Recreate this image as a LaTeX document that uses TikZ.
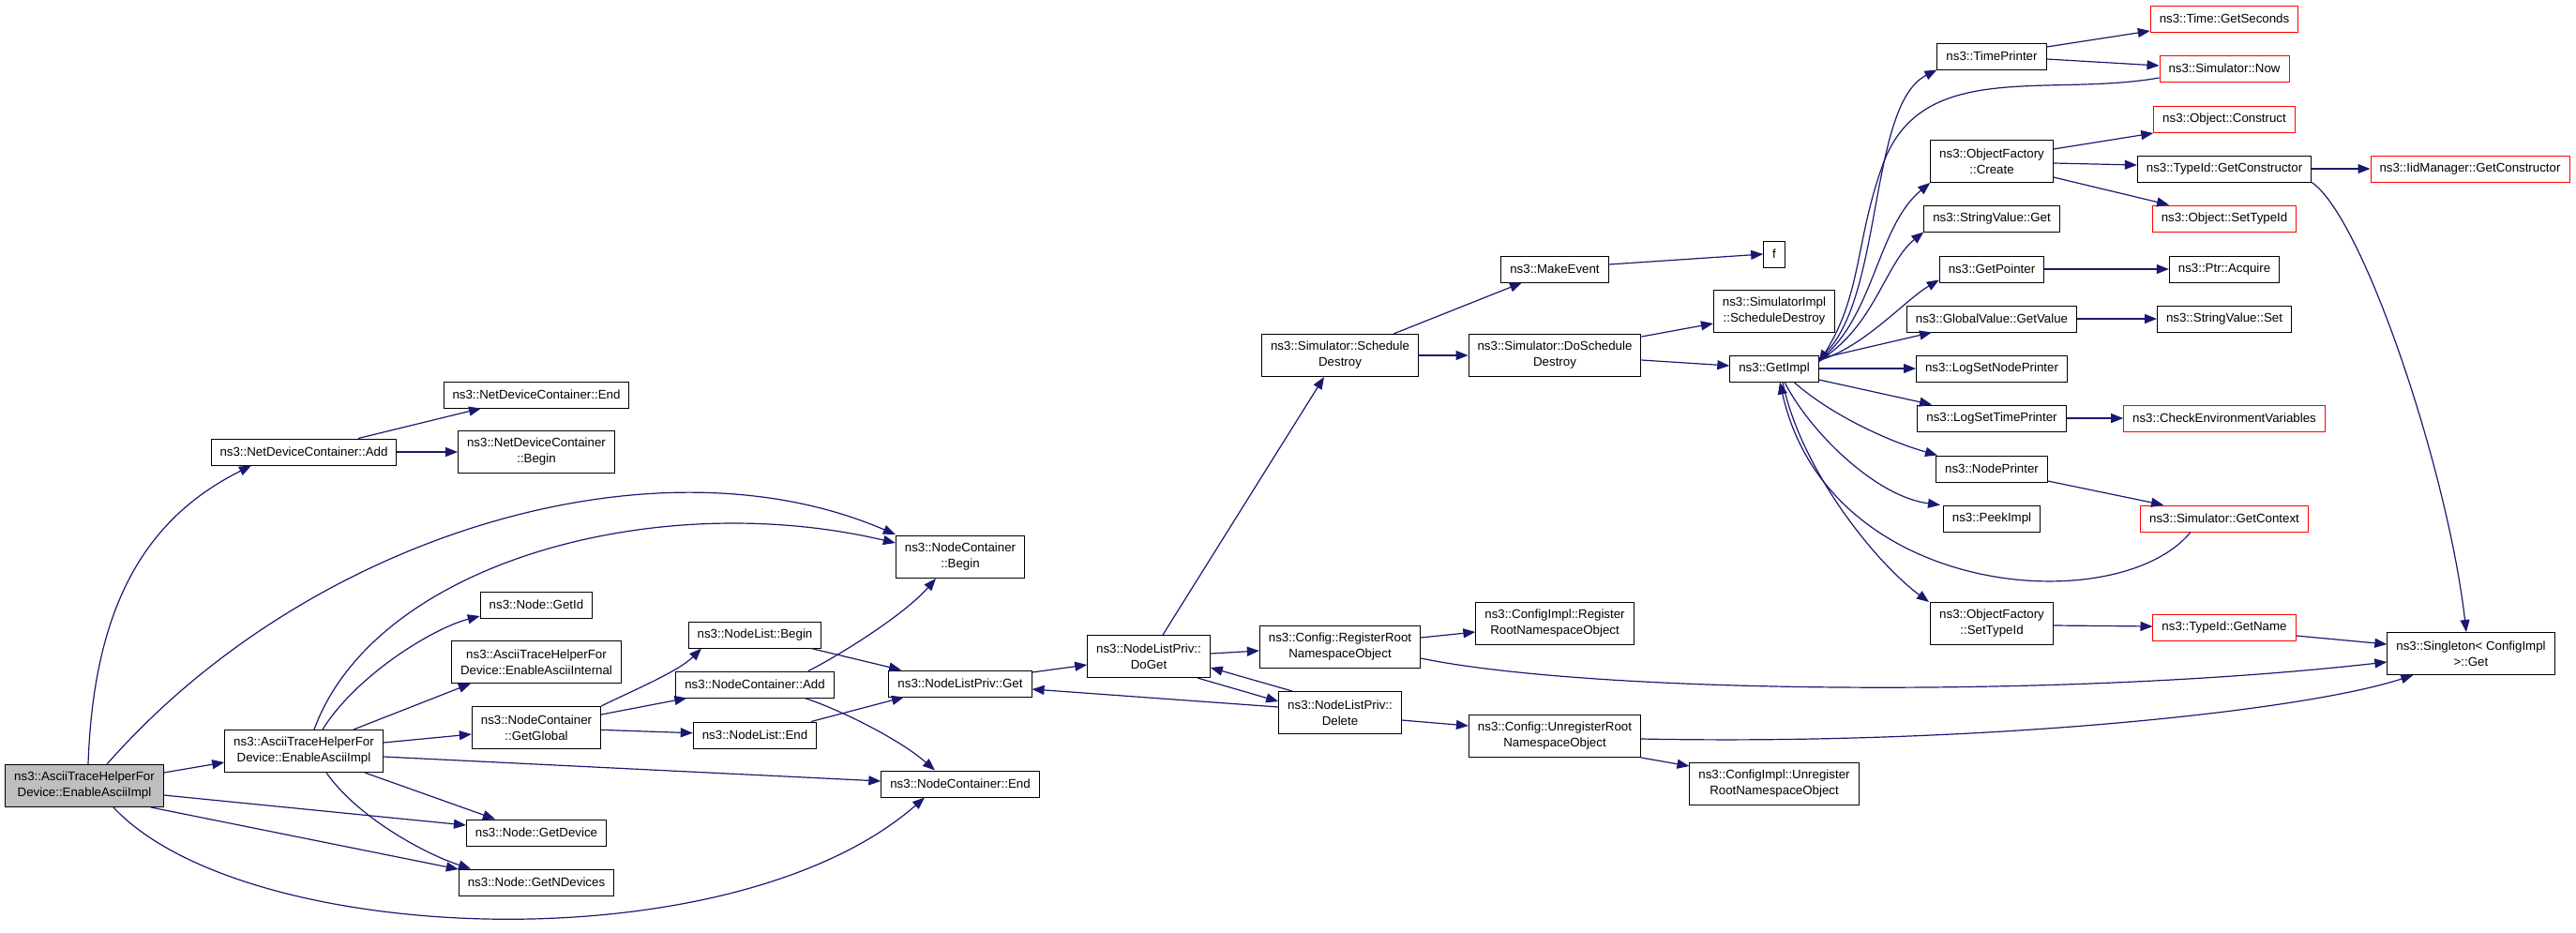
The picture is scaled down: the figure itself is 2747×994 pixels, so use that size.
\documentclass[tikz,border=0pt]{standalone}
\usepackage{fontspec}
\setmainfont{Liberation Sans}
\usetikzlibrary{arrows.meta}
\definecolor{edgeblue}{RGB}{25,25,112}
\definecolor{undoc}{RGB}{255,0,0}
\definecolor{rootgray}{RGB}{191,191,191}

\begin{document}
\begin{tikzpicture}[x=1pt,y=-1pt,
    >={Triangle[length=13pt,width=10pt]},
    box/.style={draw=black,line width=1pt,fill=white,minimum height=28pt,
      inner xsep=9.5pt,inner ysep=2pt,align=center,font=\fontsize{13.3}{17}\selectfont},
    dbl/.style={box,minimum height=45pt},
    nodoc/.style={draw=undoc},
    call/.style={->,edgeblue,line width=1.2pt}]
      \useasboundingbox (0,0) rectangle (2747,994);

      \node[dbl,fill=rootgray] (main) at (90,838) {ns3::AsciiTraceHelperFor\\Device::EnableAsciiImpl};
      \node[box] (netAdd) at (324,482) {ns3::NetDeviceContainer::Add};
      \node[dbl] (impl) at (324,801) {ns3::AsciiTraceHelperFor\\Device::EnableAsciiImpl};
      \node[box] (netEnd) at (572,421) {ns3::NetDeviceContainer::End};
      \node[dbl] (netBegin) at (572,482) {ns3::NetDeviceContainer\\::Begin};
      \node[box] (getId) at (572,645) {ns3::Node::GetId};
      \node[dbl] (internal) at (572,706) {ns3::AsciiTraceHelperFor\\Device::EnableAsciiInternal};
      \node[dbl] (getGlobal) at (572,776) {ns3::NodeContainer\\::GetGlobal};
      \node[box] (getDevice) at (572,888) {ns3::Node::GetDevice};
      \node[box] (getNDevices) at (572,941) {ns3::Node::GetNDevices};
      \node[box] (listBegin) at (805,677) {ns3::NodeList::Begin};
      \node[box] (ncAdd) at (805,730) {ns3::NodeContainer::Add};
      \node[box] (listEnd) at (805,784) {ns3::NodeList::End};
      \node[dbl] (ncBegin) at (1024,594) {ns3::NodeContainer\\::Begin};
      \node[box] (privGet) at (1024,729) {ns3::NodeListPriv::Get};
      \node[box] (ncEnd) at (1024,836) {ns3::NodeContainer::End};
      \node[dbl] (doGet) at (1225,700) {ns3::NodeListPriv::\\DoGet};
      \node[dbl] (schedDestroy) at (1429,379) {ns3::Simulator::Schedule\\Destroy};
      \node[dbl] (regRoot) at (1429,690) {ns3::Config::RegisterRoot\\NamespaceObject};
      \node[dbl] (privDelete) at (1429,760) {ns3::NodeListPriv::\\Delete};
      \node[box] (makeEvent) at (1658,287) {ns3::MakeEvent};
      \node[dbl] (doSched) at (1658,379) {ns3::Simulator::DoSchedule\\Destroy};
      \node[dbl] (implReg) at (1658,665) {ns3::ConfigImpl::Register\\RootNamespaceObject};
      \node[dbl] (unregRoot) at (1658,785) {ns3::Config::UnregisterRoot\\NamespaceObject};
      \node[box] (fn) at (1892,271) {f};
      \node[dbl] (implSched) at (1892,332) {ns3::SimulatorImpl\\::ScheduleDestroy};
      \node[box] (getImpl) at (1892,393) {ns3::GetImpl};
      \node[dbl] (implUnreg) at (1892,836) {ns3::ConfigImpl::Unregister\\RootNamespaceObject};
      \node[box] (timePrinter) at (2124,60) {ns3::TimePrinter};
      \node[dbl] (ofCreate) at (2124,172) {ns3::ObjectFactory\\::Create};
      \node[box] (svGet) at (2124,233) {ns3::StringValue::Get};
      \node[box] (getPointer) at (2124,287) {ns3::GetPointer};
      \node[box] (gvGetValue) at (2124,340) {ns3::GlobalValue::GetValue};
      \node[box] (logNode) at (2124,393) {ns3::LogSetNodePrinter};
      \node[box] (logTime) at (2124,446) {ns3::LogSetTimePrinter};
      \node[box] (nodePrinter) at (2124,500) {ns3::NodePrinter};
      \node[box] (peekImpl) at (2124,553) {ns3::PeekImpl};
      \node[dbl] (ofSetTypeId) at (2124,665) {ns3::ObjectFactory\\::SetTypeId};
      \node[box,nodoc] (getSeconds) at (2372,20) {ns3::Time::GetSeconds};
      \node[box,nodoc] (simNow) at (2372,73) {ns3::Simulator::Now};
      \node[box,nodoc] (construct) at (2372,127) {ns3::Object::Construct};
      \node[box] (getConstructor) at (2372,180) {ns3::TypeId::GetConstructor};
      \node[box,nodoc] (setTypeId) at (2372,233) {ns3::Object::SetTypeId};
      \node[box] (acquire) at (2372,287) {ns3::Ptr::Acquire};
      \node[box] (svSet) at (2372,340) {ns3::StringValue::Set};
      \node[box,nodoc] (checkEnv) at (2372,446) {ns3::CheckEnvironmentVariables};
      \node[box,nodoc] (getContext) at (2372,553) {ns3::Simulator::GetContext};
      \node[box,nodoc] (getName) at (2372,669) {ns3::TypeId::GetName};
      \node[box,nodoc] (iidConstructor) at (2634,180) {ns3::IidManager::GetConstructor};
      \node[dbl] (singleton) at (2635,697) {ns3::Singleton< ConfigImpl\\>::Get};

      \draw[call] ([xshift=4]main.north) .. controls +(6,-176) and +(-108,54) .. ([xshift=-56]netAdd.south);
      \draw[call] ([xshift=24]main.north) .. controls +(216,-246) and +(-255,-110) .. ([yshift=24]ncBegin.west);
      \draw[call] ([yshift=14]main.east) -- ([yshift=-12]impl.west);
      \draw[call] ([yshift=-10]main.east) -- ([yshift=8]getDevice.west);
      \draw[call] ([xshift=71]main.south) -- ([yshift=14]getNDevices.west);
      \draw[call] ([xshift=31]main.south) .. controls +(139,149) and +(-206,180) .. ([xshift=-38]ncEnd.south);

      \draw[call] ([xshift=11]impl.north) .. controls +(65,-178) and +(-255,-60) .. ([yshift=15]ncBegin.west);
      \draw[call] ([xshift=20]impl.north) .. controls +(36,-58) and +(-50,13) .. ([yshift=-12]getId.west);
      \draw[call] ([xshift=53]impl.north) -- ([xshift=-70]internal.south);
      \draw[call] ([yshift=9]impl.east) -- ([yshift=-7]getGlobal.west);
      \draw[call] ([yshift=-6]impl.east) -- ([yshift=3]ncEnd.west);
      \draw[call] ([xshift=65]impl.south) -- ([xshift=-44]getDevice.north);
      \draw[call] ([xshift=24]impl.south) .. controls +(32,46) and +(-52,-17) .. ([xshift=-70]getNDevices.north);

      \draw[call] ([xshift=58]netAdd.north) -- ([xshift=-59]netEnd.south);
      \draw[call] (netAdd) -- (netBegin);

      \draw[call] (getGlobal.north east) .. controls +(30,-15) and +(-25,25) .. ([xshift=-57]listBegin.south);
      \draw[call] ([yshift=14]getGlobal.east) -- ([xshift=12]ncAdd.south west);
      \draw[call] (getGlobal) -- (listEnd);
      \draw[call] ([xshift=57]ncAdd.north) .. controls +(30,-15) and +(-35,40) .. ([xshift=-26]ncBegin.south);
      \draw[call] ([xshift=53]ncAdd.south) .. controls +(32,10) and +(-40,-35) .. ([xshift=-27]ncEnd.north);
      \draw[call] ([xshift=60]listBegin.south) -- ([xshift=-63]privGet.north);
      \draw[call] ([xshift=60]listEnd.north) -- ([xshift=-60]privGet.south);

      \draw[call] ([yshift=12]privGet.east) -- ([yshift=-9]doGet.west);
      \draw[call] ([xshift=15]doGet.north) -- ([xshift=-17]schedDestroy.south);
      \draw[call] ([yshift=3]doGet.east) -- ([yshift=-4]regRoot.west);
      \draw[call] ([xshift=52]doGet.south) -- ([yshift=12]privDelete.west);
      \draw[call] ([xshift=-51]privDelete.north) -- ([yshift=-12]doGet.east);
      \draw[call] ([yshift=6]privDelete.west) -- ([yshift=-6]privGet.east);

      \draw[call] ([xshift=57]schedDestroy.north) -- ([xshift=-35]makeEvent.south);
      \draw[call] (schedDestroy) -- (doSched);
      \draw[call] ([yshift=5]makeEvent.east) -- (fn.west);
      \draw[call] ([yshift=20]doSched.east) -- ([yshift=-13]implSched.west);
      \draw[call] ([yshift=-5]doSched.east) -- ([yshift=3]getImpl.west);

      \draw[call] ([yshift=-4]getImpl.north east) .. controls +(70,-53) and +(-75,38) .. (timePrinter.south west);
      \draw[call] ([yshift=-10]simNow.west) to[out=190,in=70] (2008,175) to[out=250,in=58] ([yshift=-8]getImpl.north east);
      \draw[call] ([yshift=-6]getImpl.north east) .. controls +(59,-45) and +(-57,47) .. (ofCreate.south west);
      \draw[call] ([yshift=-6]getImpl.north east) .. controls +(59,-35) and +(-41,33) .. (svGet.south west);
      \draw[call] ([yshift=-6]getImpl.north east) .. controls +(49,-15) and +(-37,22) .. ([yshift=3]getPointer.south west);
      \draw[call] ([yshift=-4]getImpl.north east) -- ([xshift=-64]gvGetValue.south);
      \draw[call] (getImpl) -- (logNode);
      \draw[call] ([yshift=-12]getImpl.east) -- ([xshift=-64]logTime.north);
      \draw[call] ([xshift=21]getImpl.south) .. controls +(37,33) and +(-56,-16) .. ([xshift=-58]nodePrinter.north);
      \draw[call] ([xshift=11]getImpl.south) .. controls +(27,53) and +(-69,-9) .. ([xshift=-55]peekImpl.north);
      \draw[call] ([xshift=-36]getContext.south) .. controls +(-76,93) and +(52,233) .. ([xshift=6]getImpl.south);
      \draw[call] ([xshift=9]getImpl.south) .. controls +(19,93) and +(-57,-42) .. ([xshift=-67]ofSetTypeId.north);

      \draw[call] ([yshift=10]timePrinter.east) -- ([yshift=-13]getSeconds.west);
      \draw[call] ([yshift=-3]timePrinter.east) -- ([yshift=3]simNow.west);
      \draw[call] ([yshift=13]ofCreate.east) -- ([yshift=-15]construct.west);
      \draw[call] ([yshift=-2]ofCreate.east) -- ([yshift=4]getConstructor.west);
      \draw[call] ([yshift=-17]ofCreate.east) -- ([xshift=-59]setTypeId.north);
      \draw[call] (getConstructor) -- (iidConstructor);
      \draw[call] (getConstructor.south east) .. controls +(54,36) and +(-20,-174) .. ([xshift=-5]singleton.north);
      \draw[call] (getPointer) -- (acquire);
      \draw[call] (gvGetValue) -- (svSet);
      \draw[call] (logTime) -- (checkEnv);
      \draw[call] ([yshift=-13]nodePrinter.east) -- ([xshift=-65]getContext.north);
      \draw[call] ([yshift=-2]ofSetTypeId.east) -- ([yshift=1]getName.west);
      \draw[call] ([yshift=-9]getName.east) -- ([yshift=10]singleton.west);

      \draw[call] ([yshift=10]regRoot.east) -- ([yshift=-9]implReg.west);
      \draw[call] ([yshift=-12]regRoot.east) .. controls +(184,38) and +(-345,39) .. ([yshift=-9]singleton.west);
      \draw[call] ([yshift=-8]privDelete.east) -- ([yshift=11]unregRoot.west);
      \draw[call] (unregRoot.south east) -- ([yshift=19]implUnreg.west);
      \draw[call] ([yshift=-3]unregRoot.east) .. controls +(349,7) and +(-123,40) .. ([xshift=28]singleton.south west);
\end{tikzpicture}
\end{document}
